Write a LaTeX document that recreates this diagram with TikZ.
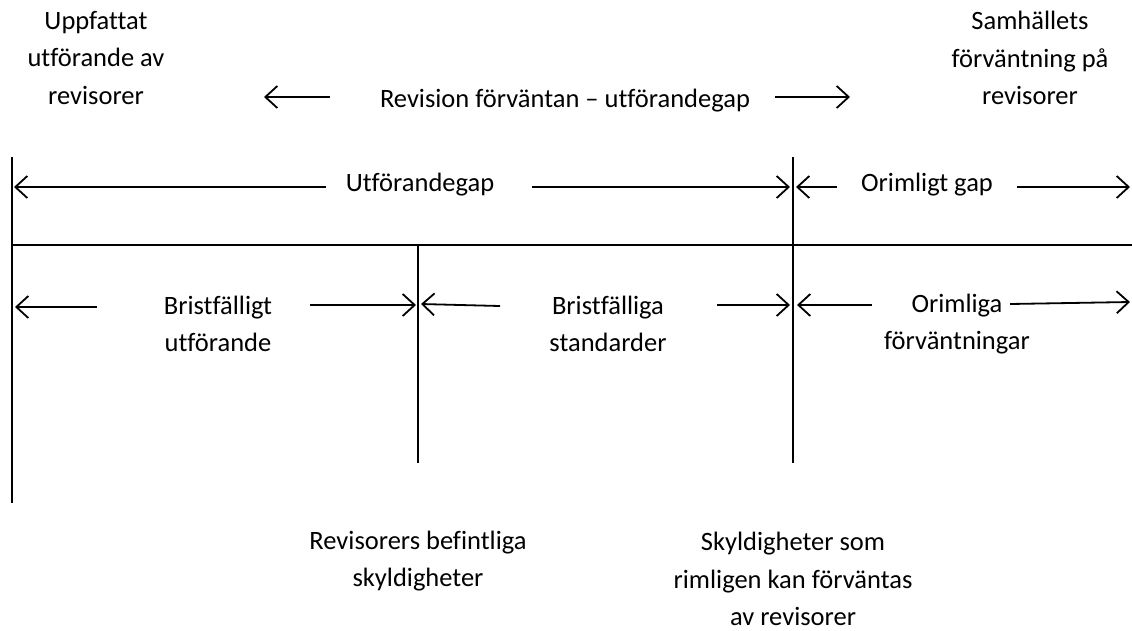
\documentclass[tikz,border=0pt]{standalone}
\usepackage{fontspec}
\setmainfont{Carlito}[Ligatures=NoCommon]
\usetikzlibrary{arrows.meta}
\begin{document}
\begin{tikzpicture}[x=1pt,y=-1pt,
  lbl/.style={font=\fontsize{26.5}{37.5}\selectfont, align=center, inner sep=0pt, anchor=center},
  arr/.style={line width=1.8pt, -{Straight Barb[length=12pt,width=22pt,line width=1.8pt]}},
  rulel/.style={line width=1.4pt}]
\useasboundingbox (0,0) rectangle (1132,630);
% frame lines
\coordinate (L1) at (12,157); \coordinate (L2) at (12,503);
\coordinate (R1) at (793,157); \coordinate (R2) at (793,463);
\coordinate (M1) at (418,245); \coordinate (M2) at (418,463);
\coordinate (H1) at (12,245); \coordinate (H2) at (1132,245);
\draw[rulel] (L1) -- (L2);
\draw[rulel] (R1) -- (R2);
\draw[rulel] (M1) -- (M2);
\draw[rulel] (H1) -- (H2);
% header texts
\node[lbl] (upp) at (96,58) {Uppfattat\\utförande av\\revisorer};
\node[lbl] (rev) at (565,101) {Revision förväntan – utförandegap};
\node[lbl] (sam) at (1030,58) {Samhällets\\förväntning på\\revisorer};
\coordinate (h1s) at (330,97); \coordinate (h1e) at (264,97);
\coordinate (h2s) at (775,97); \coordinate (h2e) at (850,97);
\draw[arr] (h1s) -- (h1e);
\draw[arr] (h2s) -- (h2e);
% upper band
\node[lbl] (utg) at (420,185) {Utförandegap};
\node[lbl] (org) at (927,185) {Orimligt gap};
\coordinate (u1s) at (326,187); \coordinate (u1e) at (14,187);
\coordinate (u2s) at (532,187); \coordinate (u2e) at (790,187);
\coordinate (o1s) at (837,187); \coordinate (o1e) at (796,187);
\coordinate (o2s) at (1017,187); \coordinate (o2e) at (1130,187);
\draw[arr] (u1s) -- (u1e);
\draw[arr] (u2s) -- (u2e);
\draw[arr] (o1s) -- (o1e);
\draw[arr] (o2s) -- (o2e);
% lower band
\node[lbl] (bu) at (218,324) {Bristfälligt\\utförande};
\node[lbl] (bs) at (608,324) {Bristfälliga\\standarder};
\node[lbl] (of) at (957,324) {Orimliga\\förväntningar};
\coordinate (b1s) at (97,307); \coordinate (b1e) at (15,307);
\coordinate (b2s) at (310,305); \coordinate (b2e) at (416,305);
\coordinate (b3s) at (500,306); \coordinate (b3e) at (421,304);
\coordinate (b4s) at (717,305); \coordinate (b4e) at (790,305);
\coordinate (b5s) at (872,305); \coordinate (b5e) at (797,305);
\coordinate (b6s) at (1010,304); \coordinate (b6e) at (1130,302);
\draw[arr] (b1s) -- (b1e);
\draw[arr] (b2s) -- (b2e);
\draw[arr] (b3s) -- (b3e);
\draw[arr] (b4s) -- (b4e);
\draw[arr] (b5s) -- (b5e);
\draw[arr] (b6s) -- (b6e);
% bottom texts
\node[lbl] (rbs) at (418,561) {Revisorers befintliga\\skyldigheter};
\node[lbl] (srk) at (793,579) {Skyldigheter som\\rimligen kan förväntas\\av revisorer};
\end{tikzpicture}
\end{document}
